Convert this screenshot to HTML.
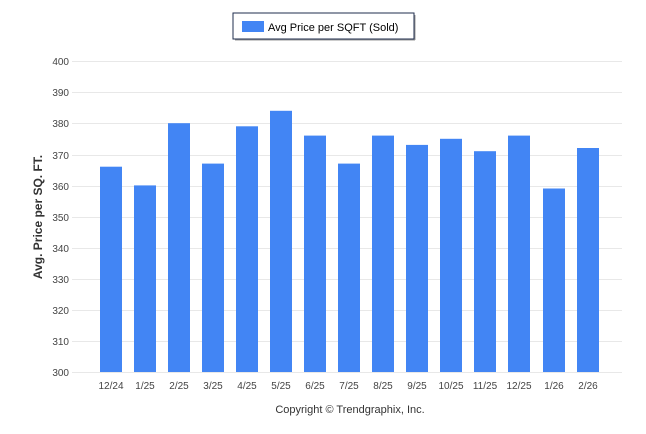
<!DOCTYPE html><html><head><style>body{margin:0;background:#fff}svg{display:block;font-family:"Liberation Sans",Arial,sans-serif}</style></head><body>
<svg width="646" height="434" xmlns="http://www.w3.org/2000/svg">
<rect x="233" y="13" width="181" height="26" fill="#fff" stroke="#1f2d4d" stroke-width="1"/>
<line x1="415" y1="15" x2="415" y2="40" stroke="#999"/><line x1="235" y1="40" x2="415" y2="40" stroke="#999"/>
<rect x="242" y="21" width="22" height="11" fill="#4285f4"/>
<text x="268" y="31" font-size="11" fill="#000">Avg Price per SQFT (Sold)</text>
<g stroke="#e8e8e8" stroke-width="1">
<line x1="72" y1="61.5" x2="622" y2="61.5"/><line x1="72" y1="92.5" x2="622" y2="92.5"/><line x1="72" y1="123.5" x2="622" y2="123.5"/><line x1="72" y1="155.5" x2="622" y2="155.5"/><line x1="72" y1="186.5" x2="622" y2="186.5"/><line x1="72" y1="217.5" x2="622" y2="217.5"/><line x1="72" y1="248.5" x2="622" y2="248.5"/><line x1="72" y1="279.5" x2="622" y2="279.5"/><line x1="72" y1="310.5" x2="622" y2="310.5"/><line x1="72" y1="372.5" x2="622" y2="372.5"/><line x1="72" y1="341.5" x2="622" y2="341.5"/>
</g>
<g font-size="10" fill="#444" text-anchor="end">
<text x="69" y="65">400</text><text x="69" y="96">390</text><text x="69" y="127">380</text><text x="69" y="159">370</text><text x="69" y="190">360</text><text x="69" y="221">350</text><text x="69" y="252">340</text><text x="69" y="283">330</text><text x="69" y="314">320</text><text x="69" y="345">310</text><text x="69" y="376">300</text>
</g>
<text transform="translate(42,217) rotate(-90)" font-size="12" font-weight="bold" fill="#333" text-anchor="middle">Avg. Price per SQ. FT.</text>
<g fill="#4285f4">
<rect x="100" y="166.7" width="22" height="205.3"/>
<rect x="134" y="185.4" width="22" height="186.6"/>
<rect x="168" y="123.2" width="22" height="248.8"/>
<rect x="202" y="163.6" width="22" height="208.4"/>
<rect x="236" y="126.3" width="22" height="245.7"/>
<rect x="270" y="110.8" width="22" height="261.2"/>
<rect x="304" y="107.7" width="22" height="0"/>
<rect x="304" y="135.6" width="22" height="236.4"/>
<rect x="338" y="163.6" width="22" height="208.4"/>
<rect x="372" y="135.6" width="22" height="236.4"/>
<rect x="406" y="144.9" width="22" height="227.1"/>
<rect x="440" y="138.8" width="22" height="233.2"/>
<rect x="474" y="151.2" width="22" height="220.8"/>
<rect x="508" y="135.6" width="22" height="236.4"/>
<rect x="543" y="188.5" width="22" height="183.5"/>
<rect x="577" y="148" width="22" height="224"/>
</g>
<g font-size="10" fill="#444" text-anchor="middle">
<text x="111" y="389">12/24</text><text x="145" y="389">1/25</text><text x="179" y="389">2/25</text><text x="213" y="389">3/25</text><text x="247" y="389">4/25</text><text x="281" y="389">5/25</text><text x="315" y="389">6/25</text><text x="349" y="389">7/25</text><text x="383" y="389">8/25</text><text x="417" y="389">9/25</text><text x="451" y="389">10/25</text><text x="485" y="389">11/25</text><text x="519" y="389">12/25</text><text x="554" y="389">1/26</text><text x="588" y="389">2/26</text>
</g>
<text x="350" y="413" font-size="11" fill="#333" text-anchor="middle">Copyright © Trendgraphix, Inc.</text>
</svg></body></html>
